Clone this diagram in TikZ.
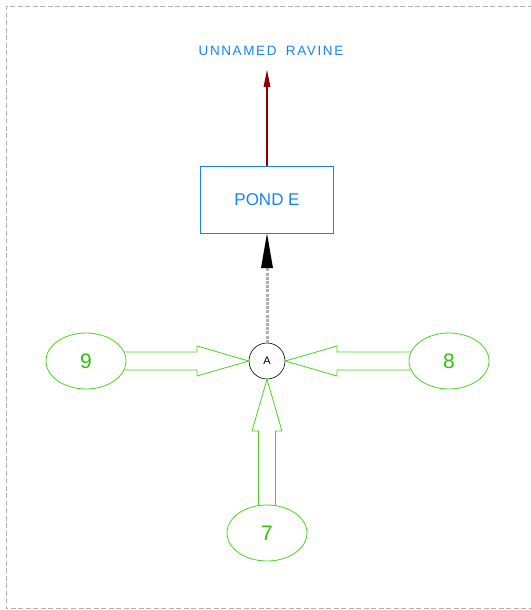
\documentclass[tikz,border=0pt]{standalone}
\usepackage{fontspec}
\setmainfont{Liberation Sans}
\usetikzlibrary{arrows.meta,shapes.geometric}
\definecolor{grn}{RGB}{68,214,24}
\definecolor{grntext}{RGB}{40,200,0}
\definecolor{blu}{RGB}{20,130,255}
\definecolor{drk}{RGB}{140,0,0}
\definecolor{frm}{RGB}{175,175,175}
\begin{document}
\begin{tikzpicture}[x=1pt,y=-1pt,
  catch/.style={draw=grn,ellipse,minimum width=80pt,minimum height=56pt,inner sep=0pt,
     text=grntext,font=\fontsize{21}{21}\selectfont,line width=0.8pt},
  pondbox/.style={draw=blu,rectangle,minimum width=133pt,minimum height=67pt,inner sep=0pt,
     text=blu,font=\fontsize{17}{17}\selectfont,line width=0.8pt},
  junction/.style={draw=black,circle,minimum size=36pt,inner sep=0pt,font=\fontsize{11}{11}\selectfont,line width=0.6pt},
  blockarrow/.style={draw=grn,line width=0.8pt,line join=miter},
  outlabel/.style={text=blu,inner sep=0pt,font=\fontsize{13.5}{13.5}\selectfont\addfontfeature{LetterSpace=12}}
]
\useasboundingbox (0,0) rectangle (530,610);
\draw[frm,line width=1.1pt,dash pattern=on 5pt off 2.5pt] (540,6.5) -- (6.5,6.5) -- (6.5,608.5) -- (540,608.5);

\node[outlabel] (rav) at (271,51) {UNNAMED\hspace{4pt} RAVINE};
\node[pondbox] (pond) at (267,199.5) {POND E};
\node[junction] (A) at (267,361) {A};
\node[catch] (n9) at (86,361) {9};
\node[catch] (n8) at (449,361) {8};
\node[catch] (n7) at (267,533) {7};
\coordinate (ravtip) at (267,70);

% outlet arrow
\draw[drk,line width=1.4pt] (pond.north) -- (267,86);
\fill[drk] (ravtip) -- (270.5,87) -- (263.5,87) -- cycle;

% dashed link to pond
\draw[frm,line width=3pt,dash pattern=on 3pt off 1.2pt] (A.north) -- (267,268);
\fill[black] (pond.south) -- (273,268) -- (261,268) -- cycle;

% block arrows
\draw[blockarrow] ([xshift=-2pt]n9.east |- 0,352) -- (197,352) -- (197,346) -- (A.west) -- (197,376) -- (197,370) -- ([xshift=-2pt]n9.east |- 0,370);
\draw[blockarrow] ([xshift=2pt]n8.west |- 0,352) -- (337,352) -- (337,346) -- (A.east) -- (337,376) -- (337,370) -- ([xshift=2pt]n8.west |- 0,370);
\draw[blockarrow] (258.5,505.5) -- (258.5,431) -- (252,431) -- (A.south) -- (282,431) -- (275.5,431) -- (275.5,505.5);
\end{tikzpicture}
\end{document}
